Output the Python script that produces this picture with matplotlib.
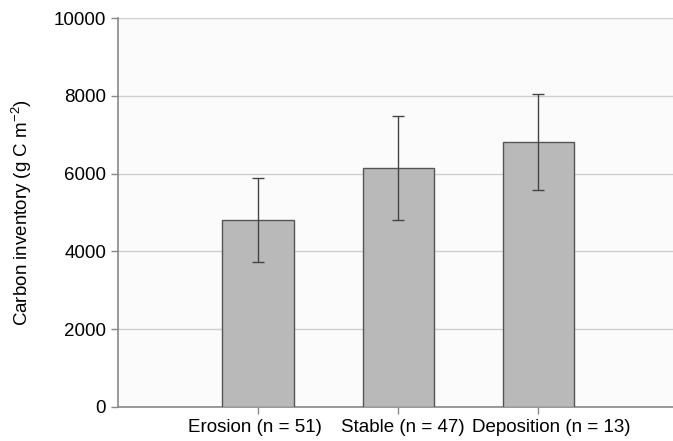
import numpy as np
import matplotlib
matplotlib.use('Agg')
import matplotlib.pyplot as plt
from matplotlib.transforms import ScaledTranslation

plt.rcParams['font.family'] = ['Liberation Sans', 'DejaVu Sans']
plt.rcParams['mathtext.fontset'] = 'custom'
plt.rcParams['mathtext.rm'] = 'Liberation Sans'
plt.rcParams['mathtext.it'] = 'Liberation Sans:italic'

# data
categories = ['Erosion (n = 51)', 'Stable (n = 47)', 'Deposition (n = 13)']
means = [4810, 6140, 6810]
errors = [1090, 1330, 1230]
yticks = [0, 2000, 4000, 6000, 8000, 10000]

fig = plt.figure(figsize=(6.73, 4.41), dpi=100)
ax = fig.add_axes([0.1753, 0.0771, 0.8247, 0.8819])
ax.set_facecolor('#fbfbfb')

x = np.arange(1, len(categories) + 1)
ax.bar(x, means, width=0.51, color='#b9b9b9', edgecolor='#555555',
       linewidth=1.0, zorder=3)
ax.errorbar(x, means, yerr=errors, fmt='none', ecolor='#444444',
            elinewidth=1.0, capsize=4.5, capthick=1.0, zorder=4)

ax.set_xlim(0, 3.96)
ax.set_ylim(0, 10000)
ax.set_yticks(yticks)
ax.set_xticks(x)
ax.set_xticklabels(categories)
ax.yaxis.grid(True, color='#cfcfcf', linewidth=1.0, zorder=0)
ax.axhline(10000, color='#777777', linewidth=1.2, zorder=1)

for side in ['top', 'right']:
    ax.spines[side].set_visible(False)
ax.spines['left'].set_color('#888888')
ax.spines['bottom'].set_color('#888888')
ax.spines['left'].set_linewidth(1.2)
ax.spines['bottom'].set_linewidth(1.2)

ax.tick_params(axis='both', colors='#888888', labelcolor='black',
               labelsize=13.5, length=5, width=1.0)
ax.set_ylabel(r'Carbon inventory (g C m$^{-2}$)', fontsize=13.5, labelpad=14)

# labels in the original are not quite centred under their ticks
shifts = [-3, 5, 13]
for lab, dx in zip(ax.get_xticklabels(), shifts):
    lab.set_transform(lab.get_transform() + ScaledTranslation(dx / 100, 0, fig.dpi_scale_trans))

fig.savefig('out.png', dpi=100)
